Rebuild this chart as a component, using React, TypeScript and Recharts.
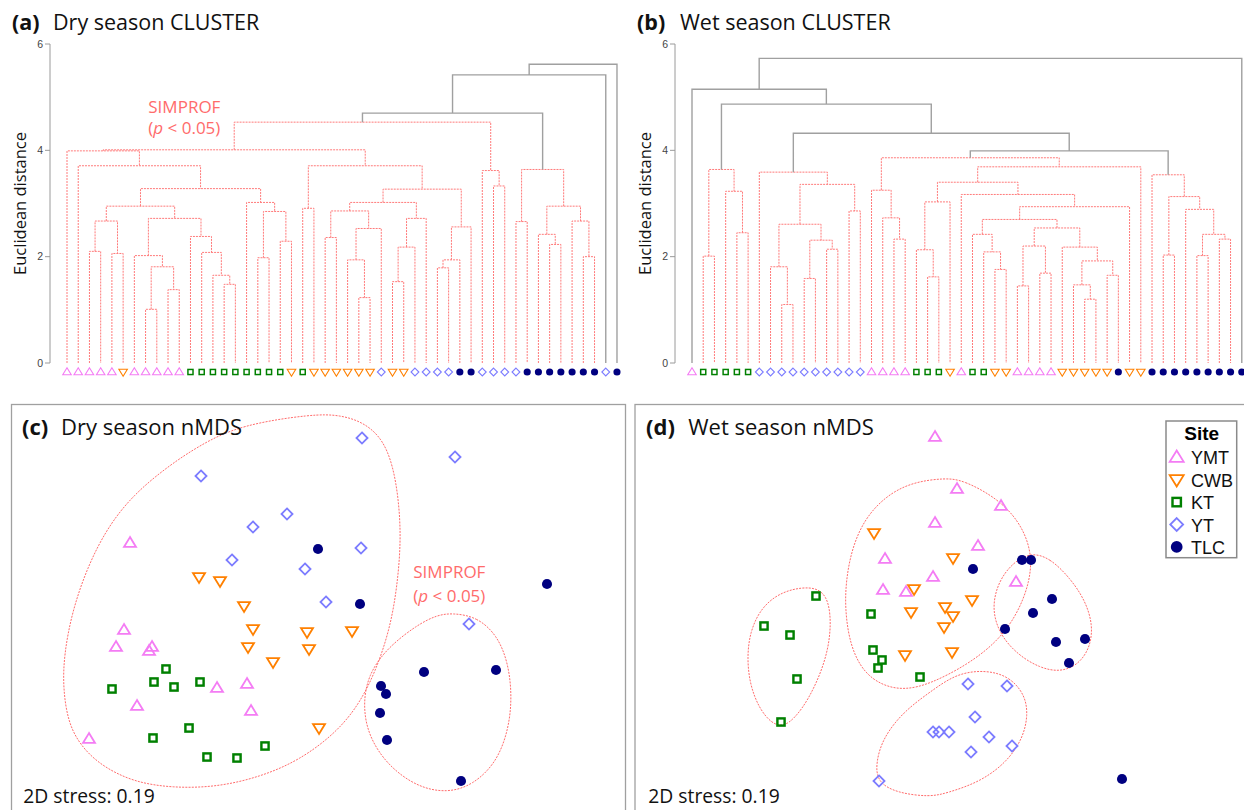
import React from 'react';
import { LineChart, Line, XAxis, YAxis, ScatterChart, Scatter } from 'recharts';

const FONT = '"Open Sans", Lato, sans-serif';
const ARIAL = '"Liberation Sans", Arial, sans-serif';

const SITE_NAMES = ['YMT', 'CWB', 'KT', 'YT', 'TLC'];
const SITE_COLORS: Record<string, string> = { YMT: '#f47cf4', CWB: '#ff8000', KT: '#008000', YT: '#7c7cff', TLC: '#000080' };
const Y_TICKS = [0, 2, 4, 6];

// ---------- Dendrogram (a) dry season ----------
const dryLeafSites = [
  'YMT', 'YMT', 'YMT', 'YMT', 'YMT', 'CWB', 'YMT', 'YMT', 'YMT', 'YMT',
  'YMT', 'KT', 'KT', 'KT', 'KT', 'KT', 'KT', 'KT', 'KT', 'KT',
  'CWB', 'KT', 'CWB', 'CWB', 'CWB', 'CWB', 'CWB', 'CWB', 'YT', 'CWB',
  'CWB', 'YT', 'YT', 'YT', 'YT', 'TLC', 'TLC', 'YT', 'YT', 'YT',
  'YT', 'TLC', 'TLC', 'TLC', 'TLC', 'TLC', 'TLC', 'TLC', 'YT', 'TLC',
];
// [left, right, height]; refs < 100 are leaves, 100+k is merge k
const dryMerges = [
  [7, 8, 1.01], [9, 10, 1.38], [100, 101, 1.81], [6, 102, 2.02], [2, 3, 2.10],
  [4, 5, 2.06], [104, 105, 2.67], [14, 15, 1.48], [13, 107, 1.65], [12, 108, 2.08],
  [11, 109, 2.38], [103, 110, 2.72], [106, 111, 2.95], [17, 18, 1.98], [19, 20, 2.29],
  [113, 114, 2.85], [16, 115, 3.02], [112, 116, 3.28], [1, 117, 3.71], [0, 118, 3.99],
  [21, 22, 2.91], [23, 24, 2.36], [26, 27, 1.23], [25, 122, 1.94], [123, 28, 2.53],
  [121, 124, 2.86], [29, 30, 1.53], [126, 31, 2.18], [127, 32, 2.72], [125, 128, 3.02],
  [33, 34, 1.79], [130, 35, 1.94], [131, 36, 2.56], [129, 132, 3.27], [120, 133, 3.71],
  [119, 134, 4.01], [38, 39, 3.33], [37, 136, 3.62], [135, 137, 4.53], [40, 41, 2.66],
  [43, 44, 2.23], [42, 140, 2.42], [46, 47, 2.00], [45, 142, 2.67], [141, 143, 2.95],
  [139, 144, 3.64], [138, 145, 4.70], [146, 48, 5.42], [147, 49, 5.62],
];
const drySimprofSplits = [46, 47, 48];

// ---------- Dendrogram (b) wet season ----------
const wetLeafSites = [
  'YMT', 'KT', 'KT', 'KT', 'KT', 'KT', 'YT', 'YT', 'YT', 'YT',
  'YT', 'YT', 'YT', 'YT', 'YT', 'YT', 'YMT', 'YMT', 'YMT', 'YMT',
  'KT', 'KT', 'KT', 'CWB', 'YMT', 'KT', 'KT', 'CWB', 'CWB', 'YMT',
  'YMT', 'YMT', 'YMT', 'CWB', 'CWB', 'CWB', 'CWB', 'CWB', 'TLC', 'CWB',
  'CWB', 'TLC', 'TLC', 'TLC', 'TLC', 'TLC', 'TLC', 'TLC', 'TLC', 'TLC',
];
const wetMerges = [
  [1, 2, 2.01], [4, 5, 2.45], [3, 101, 3.23], [100, 102, 3.64], [8, 9, 1.10],
  [7, 104, 1.81], [10, 11, 1.59], [12, 13, 2.14], [106, 107, 2.31], [105, 108, 2.61],
  [14, 15, 2.86], [109, 110, 3.36], [6, 111, 3.59], [18, 19, 2.33], [17, 113, 2.73],
  [16, 114, 3.25], [21, 22, 1.62], [20, 116, 2.13], [117, 23, 3.03], [27, 28, 1.76],
  [26, 119, 2.09], [25, 120, 2.42], [29, 30, 1.45], [31, 32, 1.69], [122, 123, 2.20],
  [35, 36, 1.20], [34, 125, 1.47], [37, 38, 1.65], [126, 127, 1.92], [33, 128, 2.18],
  [124, 129, 2.54], [121, 130, 2.70], [131, 39, 2.94], [24, 132, 3.17], [118, 133, 3.40],
  [134, 40, 3.69], [115, 135, 3.86], [42, 43, 2.03], [45, 46, 2.02], [47, 48, 2.33],
  [138, 139, 2.42], [44, 140, 2.89], [137, 141, 3.13], [41, 142, 3.54], [136, 143, 3.99],
  [112, 144, 4.32], [103, 145, 4.87], [0, 146, 5.15], [147, 49, 5.73],
];
const wetSimprofSplits = [44, 45, 46, 47, 48];

// ---------- nMDS (c) dry season ----------
const dryYMT = [[-1.88, 0.64], [-1.94, -0.23], [-2.02, -0.40], [-1.66, -0.40], [-1.69, -0.44], [-1.01, -0.81], [-0.71, -0.77], [-1.81, -0.99], [-0.67, -1.04], [-2.29, -1.32]];
const dryCWB = [[-1.19, 0.30], [-0.98, 0.26], [-0.74, 0.01], [-0.65, -0.22], [-0.11, -0.25], [-0.70, -0.40], [-0.09, -0.42], [-0.45, -0.55], [0.01, -1.21], [0.34, -0.24]];
const dryKT = [[-1.52, -0.62], [-2.06, -0.82], [-1.64, -0.75], [-1.44, -0.80], [-1.18, -0.75], [-1.29, -1.21], [-1.65, -1.31], [-1.11, -1.50], [-0.81, -1.51], [-0.53, -1.39]];
const dryYT = [[-1.17, 1.31], [-0.31, 0.93], [-0.65, 0.80], [-0.86, 0.47], [-0.13, 0.38], [0.44, 1.69], [1.37, 1.50], [0.43, 0.59], [0.08, 0.05], [1.51, -0.17]];
const dryTLC = [[0.00, 0.58], [0.42, 0.03], [2.29, 0.23], [1.06, -0.65], [1.78, -0.63], [0.63, -0.79], [0.68, -0.87], [0.62, -1.06], [0.69, -1.33], [1.43, -1.74]];
const dryHullMain = [[-0.05, 1.93], [-0.78, 1.82], [-1.18, 1.62], [-1.51, 1.40], [-1.85, 1.12], [-2.11, 0.79], [-2.31, 0.39], [-2.46, -0.05], [-2.54, -0.48], [-2.55, -0.81], [-2.50, -1.15], [-2.38, -1.38], [-2.18, -1.58], [-1.85, -1.75], [-1.45, -1.81], [-1.01, -1.80], [-0.58, -1.70], [-0.18, -1.53], [0.19, -1.25], [0.42, -0.96], [0.59, -0.61], [0.72, -0.21], [0.79, 0.19], [0.83, 0.65], [0.81, 1.05], [0.75, 1.42], [0.64, 1.69], [0.45, 1.85], [0.22, 1.92]];
const dryHullTLC = [[1.35, -0.06], [1.59, -0.10], [1.79, -0.28], [1.90, -0.55], [1.94, -0.88], [1.91, -1.21], [1.79, -1.55], [1.55, -1.78], [1.29, -1.86], [0.99, -1.80], [0.69, -1.58], [0.50, -1.28], [0.45, -0.98], [0.50, -0.68], [0.69, -0.41], [0.99, -0.18], [1.19, -0.08]];

// ---------- nMDS (d) wet season ----------
const wetYMT = [[-0.04, 1.70], [0.18, 1.18], [0.62, 1.01], [-0.04, 0.84], [0.39, 0.61], [-0.06, 0.30], [0.77, 0.25], [-0.54, 0.48], [-0.56, 0.17], [-0.33, 0.15]];
const wetCWB = [[-0.65, 0.74], [-0.25, 0.18], [-0.28, -0.05], [-0.34, -0.48], [0.14, 0.49], [0.33, 0.07], [0.06, 0.00], [0.14, -0.09], [0.05, -0.20], [0.13, -0.45]];
const wetKT = [[-1.23, 0.11], [-1.75, -0.19], [-1.49, -0.28], [-1.42, -0.72], [-1.58, -1.15], [-0.68, -0.07], [-0.66, -0.43], [-0.57, -0.53], [-0.61, -0.61], [-0.19, -0.70]];
const wetYT = [[0.29, -0.77], [0.68, -0.79], [0.36, -1.10], [-0.06, -1.25], [0.00, -1.25], [0.10, -1.25], [0.50, -1.30], [0.73, -1.39], [0.32, -1.45], [-0.60, -1.74]];
const wetTLC = [[0.34, 0.38], [0.83, 0.47], [0.92, 0.47], [1.13, 0.08], [0.94, -0.06], [0.66, -0.22], [1.17, -0.35], [1.46, -0.32], [1.30, -0.56], [1.83, -1.72]];
const wetHullKT = [[-1.29, 0.20], [-1.17, 0.16], [-1.10, 0.04], [-1.08, -0.18], [-1.11, -0.43], [-1.19, -0.68], [-1.31, -0.93], [-1.44, -1.11], [-1.56, -1.20], [-1.68, -1.16], [-1.80, -1.01], [-1.89, -0.78], [-1.92, -0.51], [-1.89, -0.25], [-1.79, -0.03], [-1.64, 0.11], [-1.47, 0.18]];
const wetHullMain = [[0.06, 1.29], [0.24, 1.27], [0.58, 1.09], [0.81, 0.85], [0.93, 0.55], [0.91, 0.25], [0.78, -0.08], [0.58, -0.35], [0.28, -0.58], [-0.09, -0.77], [-0.34, -0.83], [-0.56, -0.79], [-0.76, -0.65], [-0.89, -0.38], [-0.94, -0.03], [-0.93, 0.27], [-0.87, 0.59], [-0.74, 0.89], [-0.52, 1.12], [-0.26, 1.25]];
const wetHullTLC = [[0.91, 0.55], [1.11, 0.49], [1.31, 0.29], [1.46, 0.07], [1.54, -0.18], [1.51, -0.41], [1.39, -0.58], [1.21, -0.65], [1.01, -0.61], [0.79, -0.48], [0.61, -0.28], [0.53, -0.03], [0.58, 0.22], [0.71, 0.42]];
const wetHullYT = [[0.48, -0.63], [0.71, -0.70], [0.86, -0.88], [0.89, -1.08], [0.84, -1.31], [0.68, -1.55], [0.41, -1.75], [0.08, -1.86], [-0.09, -1.90], [-0.42, -1.86], [-0.62, -1.75], [-0.63, -1.55], [-0.56, -1.31], [-0.36, -1.05], [-0.09, -0.85], [0.18, -0.66]];

// ---------- helpers ----------
type Pt = { x: number; y: number | null };

function buildLinks(merges: number[][], splits: number[]) {
  const xs: number[] = [];
  const hs: number[] = [];
  const gx = (r: number) => (r >= 100 ? xs[r - 100] : r);
  const gh = (r: number) => (r >= 100 ? hs[r - 100] : 0);
  const within: Pt[] = [];
  const between: Pt[] = [];
  merges.forEach(([l, r, h], k) => {
    const xl = gx(l);
    const xr = gx(r);
    xs[k] = (xl + xr) / 2;
    hs[k] = h;
    const seg: Pt[] = [
      { x: xl, y: gh(l) }, { x: xl, y: h }, { x: xr, y: h }, { x: xr, y: gh(r) }, { x: xr, y: null },
    ];
    (splits.includes(k) ? between : within).push(...seg);
  });
  return { within, between };
}

const toPts = (arr: number[][]) => arr.map(([x, y]) => ({ x, y }));

function Marker({ site, cx, cy, s, w }: { site: string; cx: number; cy: number; s: number; w: number }) {
  const c = SITE_COLORS[site];
  if (site === 'YMT') {
    const h = s * 0.82;
    return <polygon points={`${cx},${cy - h * 0.6} ${cx - s / 2},${cy + h * 0.4} ${cx + s / 2},${cy + h * 0.4}`} fill="none" stroke={c} strokeWidth={w} />;
  }
  if (site === 'CWB') {
    const h = s * 0.82;
    return <polygon points={`${cx},${cy + h * 0.6} ${cx - s / 2},${cy - h * 0.4} ${cx + s / 2},${cy - h * 0.4}`} fill="none" stroke={c} strokeWidth={w} />;
  }
  if (site === 'KT') {
    const a = s * 0.6;
    return <rect x={cx - a / 2} y={cy - a / 2} width={a} height={a} fill="none" stroke={c} strokeWidth={w * 1.35} />;
  }
  if (site === 'YT') {
    const r = s * 0.46;
    return <polygon points={`${cx},${cy - r} ${cx + r},${cy} ${cx},${cy + r} ${cx - r},${cy}`} fill="none" stroke={c} strokeWidth={w} />;
  }
  return <circle cx={cx} cy={cy} r={s * 0.42} fill={c} />;
}

function Dendrogram({ left, width, rightMargin, leafSites, merges, splits, domain }: any) {
  const { within, between } = buildLinks(merges, splits);
  const ticks = leafSites.map((_: string, i: number) => i);
  return (
    <div style={{ position: 'absolute', left, top: 0 }}>
      <LineChart width={width} height={400} margin={{ top: 44, right: rightMargin, bottom: 0, left: 0 }}>
        <XAxis
          type="number"
          dataKey="x"
          domain={domain}
          ticks={ticks}
          interval={0}
          axisLine={false}
          tickLine={false}
          tickSize={0}
          tickMargin={9}
          height={37}
          allowDataOverflow
          tick={(p: any) => <Marker key={p.index} site={leafSites[p.payload.value]} cx={p.x} cy={p.y} s={8.5} w={1.1} />}
        />
        <YAxis
          type="number"
          domain={[0, 6]}
          ticks={Y_TICKS}
          width={50}
          allowDataOverflow
          axisLine={{ stroke: '#9a9a9a' }}
          tickLine={{ stroke: '#9a9a9a' }}
          tickSize={5}
          tick={{ fontSize: 10.5, fill: '#444', fontFamily: ARIAL }}
        />
        <Line data={within} dataKey="y" type="linear" stroke="#ff7a7a" strokeWidth={1} strokeDasharray="2 1" dot={false} activeDot={false} connectNulls={false} isAnimationActive={false} />
        <Line data={between} dataKey="y" type="linear" stroke="#a0a0a0" strokeWidth={1.4} dot={false} activeDot={false} connectNulls={false} isAnimationActive={false} />
      </LineChart>
    </div>
  );
}

function NmdsPanel({ left, width, xDomain, groups, hulls }: any) {
  return (
    <div style={{ position: 'absolute', left, top: 404 }}>
      <ScatterChart width={width} height={411} margin={{ top: 0, right: 0, bottom: 0, left: 0 }}>
        <XAxis type="number" dataKey="x" domain={xDomain} hide allowDataOverflow />
        <YAxis type="number" dataKey="y" domain={[-2.08, 2.03]} hide allowDataOverflow />
        {hulls.map((h: number[][], i: number) => (
          <Scatter
            key={'hull' + i}
            data={toPts(h)}
            line={{ stroke: '#ff6b6b', strokeWidth: 1, strokeDasharray: '2 1.2' }}
            lineType="joint"
            lineJointType="basisClosed"
            shape={() => <g />}
            isAnimationActive={false}
          />
        ))}
        {groups.map(([site, pts]: [string, number[][]]) => (
          <Scatter
            key={site}
            data={toPts(pts)}
            shape={(p: any) => <Marker site={site} cx={p.cx} cy={p.cy} s={12} w={1.8} />}
            isAnimationActive={false}
          />
        ))}
      </ScatterChart>
    </div>
  );
}

const SIMPROF_RED = '#ff6b6b';

export default function App() {
  return (
    <div style={{ position: 'absolute', left: 0, top: 0, width: 1244, height: 810, overflow: 'hidden', background: '#fff' }}>
      <Dendrogram left={0} width={640} rightMargin={15} leafSites={dryLeafSites} merges={dryMerges} splits={drySimprofSplits} domain={[-1.515, 49.714]} />
      <Dendrogram left={625} width={619} rightMargin={0} leafSites={wetLeafSites} merges={wetMerges} splits={wetSimprofSplits} domain={[-1.515, 49.198]} />
      <NmdsPanel
        left={11}
        width={615}
        xDomain={[-3.07, 3.08]}
        hulls={[dryHullMain, dryHullTLC]}
        groups={[['YMT', dryYMT], ['CWB', dryCWB], ['KT', dryKT], ['YT', dryYT], ['TLC', dryTLC]]}
      />
      <NmdsPanel
        left={634}
        width={616}
        xDomain={[-3.05, 3.11]}
        hulls={[wetHullKT, wetHullMain, wetHullTLC, wetHullYT]}
        groups={[['YMT', wetYMT], ['CWB', wetCWB], ['KT', wetKT], ['YT', wetYT], ['TLC', wetTLC]]}
      />
      <svg width={1244} height={810} style={{ position: 'absolute', left: 0, top: 0, pointerEvents: 'none' }}>
        <g fontFamily={FONT} fill="#111">
          <text x={12} y={29.5} fontSize={21.5} fontWeight={700}>(a)</text>
          <text x={53} y={29.5} fontSize={21.5}>Dry season CLUSTER</text>
          <text x={637} y={29.5} fontSize={21.5} fontWeight={700}>(b)</text>
          <text x={680} y={29.5} fontSize={21.5}>Wet season CLUSTER</text>
          <text transform="rotate(-90)" x={-203.5} y={26} textAnchor="middle" fontSize={16.5}>Euclidean distance</text>
          <text transform="rotate(-90)" x={-203.5} y={651} textAnchor="middle" fontSize={16.5}>Euclidean distance</text>
          <text x={148.3} y={113.3} fontSize={17} fill={SIMPROF_RED}>SIMPROF</text>
          <text x={148.3} y={134} fontSize={17} fill={SIMPROF_RED}>(<tspan fontStyle="italic">p</tspan> &lt; 0.05)</text>

          <rect x={11.5} y={404.5} width={614} height={420} fill="none" stroke="#a0a0a0" strokeWidth={1.3} />
          <rect x={635} y={404.5} width={620} height={420} fill="none" stroke="#a0a0a0" strokeWidth={1.3} />

          <text x={22} y={435} fontSize={22} fontWeight={700}>(c)</text>
          <text x={61} y={435} fontSize={22}>Dry season nMDS</text>
          <text x={23.3} y={803.3} fontSize={19.3}>2D stress: 0.19</text>
          <text x={413.3} y={577.7} fontSize={17} fill={SIMPROF_RED}>SIMPROF</text>
          <text x={413.3} y={601.7} fontSize={17} fill={SIMPROF_RED}>(<tspan fontStyle="italic">p</tspan> &lt; 0.05)</text>

          <text x={646} y={435} fontSize={22} fontWeight={700}>(d)</text>
          <text x={688.3} y={435} fontSize={22}>Wet season nMDS</text>
          <text x={648.3} y={803.3} fontSize={19.3}>2D stress: 0.19</text>
        </g>
        <g fontFamily={ARIAL}>
          <rect x={1166} y={421} width={70.7} height={136.7} fill="#fff" stroke="#8a8a8a" strokeWidth={1.5} />
          <text x={1201.7} y={440} textAnchor="middle" fontSize={19} fontWeight={700} fill="#000">Site</text>
          {SITE_NAMES.map((s, i) => (
            <g key={s}>
              <Marker site={s} cx={1176.7} cy={457.3 + i * 22.4} s={14} w={1.8} />
              <text x={1191} y={464.3 + i * 22.4} fontSize={18} fill="#111">{s}</text>
            </g>
          ))}
        </g>
      </svg>
    </div>
  );
}
